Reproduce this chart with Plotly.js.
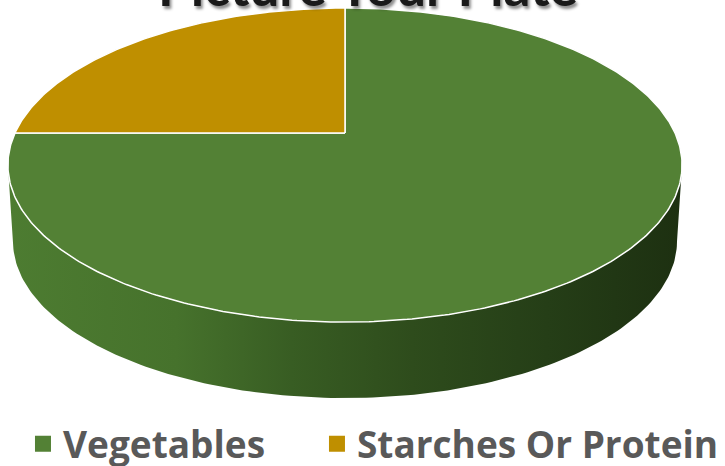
<!DOCTYPE html>
<html>
<head>
<meta charset="utf-8">
<script src="https://cdn.plot.ly/plotly-3.0.1.min.js"></script>
<style>html,body{margin:0;padding:0;background:#fff;}#chart{width:725px;height:466px;}</style>
</head>
<body>
<div id="chart"></div>
<script>
// ---- data ----
const categories = ['Vegetables', 'Starches Or Protein'];
const values = [75, 25];
const sliceColors = ['#538135', '#BF8F00'];
const chartTitle = 'Picture Your Plate';

// ---- geometry (styles / positions) ----
const CX = 345, CY = 133, A = 330, B = 150.5, K = 0.204, DEPTH = 76, BOTTOM_SCALE = 0.985;
function proj(phiDeg) { // phi measured clockwise from 12 o'clock on the disk
  const p = phiDeg * Math.PI / 180;
  const u = Math.sin(p), v = Math.cos(p);
  const w = 1 + K * v;
  return [CX + A * u / w, CY - B * v / w];
}
function arc(a0, a1, n) {
  const pts = [];
  for (let i = 0; i <= n; i++) pts.push(proj(a0 + (a1 - a0) * i / n));
  return pts;
}

const traces = [];
// side wall (front visible part of the disk rim)
const phiR = Math.acos(-K) * 180 / Math.PI;   // rightmost
const phiL = 360 - phiR;                        // leftmost
const topFront = arc(phiR, phiL, 160);
const botFront = topFront.map(([x, y]) => [CX + (x - CX) * BOTTOM_SCALE, y + DEPTH]).reverse();
const wall = topFront.concat(botFront);
wall.push(wall[0]);
traces.push({
  type: 'scatter', mode: 'lines', showlegend: false, hoverinfo: 'skip',
  x: wall.map(p => p[0]), y: wall.map(p => p[1]),
  fill: 'toself', line: {width: 0, color: 'rgba(0,0,0,0)'},
  fillgradient: {type: 'horizontal', colorscale: [
    [0, '#4d7c31'], [0.25, '#46722c'], [0.42, '#385d23'], [0.6, '#2e4c1c'], [0.8, '#253e17'], [1, '#1d3011']
  ]}
});

// top slices from values
const total = values.reduce((s, v) => s + v, 0);
let cum = 0;
values.forEach((val, i) => {
  const a0 = cum / total * 360;
  cum += val;
  const a1 = cum / total * 360;
  const pts = [[CX, CY]].concat(arc(a0, a1, Math.max(8, Math.round((a1 - a0) * 1.5))));
  pts.push([CX, CY]);
  traces.push({
    type: 'scatter', mode: 'lines', showlegend: false, hoverinfo: 'skip',
    x: pts.map(p => p[0]), y: pts.map(p => p[1]),
    fill: 'toself', fillcolor: sliceColors[i],
    line: {color: '#ffffff', width: 1.5}
  });
});

// legend entries (one legend each, to place them like the reference)
const legendIds = ['legend', 'legend2'];
categories.forEach((c, i) => {
  traces.push({
    type: 'scatter', mode: 'markers', x: [null], y: [null], name: c, legend: legendIds[i],
    marker: {symbol: 'square', size: 18, color: sliceColors[i]}, hoverinfo: 'skip'
  });
});

const legendFont = {family: 'Open Sans, sans-serif', size: 37, color: '#595959', weight: 'bold'};
const legendCommon = {
  orientation: 'h', xanchor: 'left', y: -0.02, yanchor: 'bottom',
  font: legendFont, bgcolor: 'rgba(0,0,0,0)', itemclick: false, itemdoubleclick: false
};

const layout = {
  width: 725, height: 466,
  margin: {l: 0, r: 0, t: 0, b: 0, autoexpand: false},
  paper_bgcolor: '#ffffff', plot_bgcolor: '#ffffff',
  xaxis: {range: [0, 725], visible: false, fixedrange: true},
  yaxis: {range: [466, 0], visible: false, fixedrange: true},
  annotations: [{
    text: '<b>' + chartTitle + '</b>', xref: 'paper', yref: 'paper',
    x: 0.507, y: 1, xanchor: 'center', yanchor: 'bottom', yshift: -19, showarrow: false,
    font: {family: 'Lato, sans-serif', size: 53, color: '#1a1a1a', shadow: '2px 3px 3px rgba(0,0,0,0.45)'}
  }],
  showlegend: true,
  legend: Object.assign({}, legendCommon, {x: 0.0317}),
  legend2: Object.assign({}, legendCommon, {x: 0.4372}),
  hovermode: false
};

Plotly.newPlot('chart', traces, layout, {displayModeBar: false, staticPlot: true});
</script>
</body>
</html>
